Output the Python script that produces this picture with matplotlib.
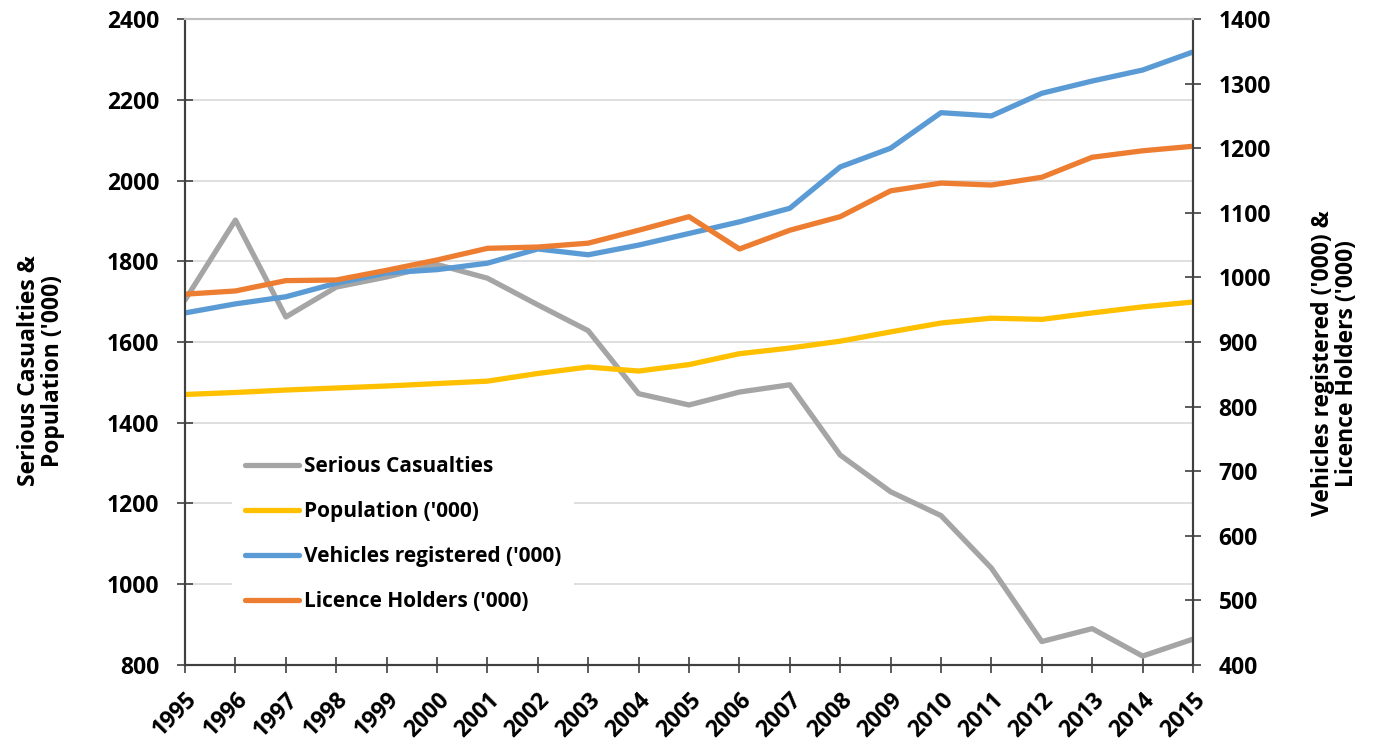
import matplotlib
matplotlib.use("Agg")
import matplotlib.pyplot as plt

plt.rcParams["font.family"] = ["Open Sans", "DejaVu Sans"]
plt.rcParams["font.weight"] = "bold"

years = list(range(1995, 2016))
casualties = [1704, 1902, 1662, 1736, 1761, 1792, 1758, 1692, 1628, 1472, 1444,
              1476, 1494, 1320, 1229, 1170, 1040, 858, 890, 822, 864]
population = [1470, 1475, 1481, 1486, 1491, 1497, 1503, 1522, 1538, 1528, 1544,
              1571, 1585, 1602, 1625, 1647, 1659, 1656, 1672, 1687, 1699]
vehicles = [945, 959, 970, 991, 1007, 1012, 1022, 1044, 1035, 1050, 1068,
            1086, 1107, 1171, 1200, 1255, 1250, 1285, 1304, 1321, 1349]
licences = [974, 979, 995, 996, 1011, 1027, 1045, 1047, 1053, 1073, 1094,
            1044, 1073, 1094, 1134, 1146, 1143, 1155, 1186, 1196, 1203]

fig = plt.figure(figsize=(13.83, 7.40), dpi=100, facecolor="white")
ax = fig.add_axes([0.1338, 0.1014, 0.7288, 0.8729])
ax2 = ax.twinx()

ln1, = ax.plot(years, casualties, color="#A5A5A5", lw=3.8, label="Serious Casualties",
               solid_capstyle="round", zorder=3)
ln2, = ax.plot(years, population, color="#FFC000", lw=3.8, label="Population ('000)",
               solid_capstyle="round", zorder=4)
ln3, = ax2.plot(years, vehicles, color="#5B9BD5", lw=3.8, label="Vehicles registered ('000)",
                solid_capstyle="round")
ln4, = ax2.plot(years, licences, color="#ED7D31", lw=3.8, label="Licence Holders ('000)",
                solid_capstyle="round")

ax.set_xlim(1995, 2015)
ax.set_ylim(800, 2400)
ax2.set_ylim(400, 1400)
ax.set_yticks(range(800, 2401, 200))
ax2.set_yticks(range(400, 1401, 100))
ax.set_xticks(years)
ax.set_xticklabels([str(y) for y in years], rotation=45, ha="right",
                   rotation_mode="anchor")

ax.grid(axis="y", color="#D9D9D9", lw=1.2)
ax.set_axisbelow(True)

for a in (ax, ax2):
    a.tick_params(direction="inout", length=11, width=1.2, color="#404040",
                  labelsize=16.5, pad=13)
    for s in a.spines.values():
        s.set_color("#404040")
        s.set_linewidth(1.5)
    a.spines["top"].set_color("#BFBFBF")
ax.tick_params(axis="x", pad=11)

ax.set_ylabel("Serious Casualties &\nPopulation ('000)", fontsize=16.5,
              fontweight="bold", linespacing=1.0)
ax2.set_ylabel("Vehicles registered ('000) &\nLicence Holders ('000)", fontsize=16.5,
               fontweight="bold", linespacing=1.0)
ax.yaxis.set_label_coords(-0.119, 0.455)
ax2.yaxis.set_label_coords(1.117, 0.467)

leg = ax2.legend(handles=[ln1, ln2, ln3, ln4], loc="upper left",
                 bbox_to_anchor=(0.168, 0.40), bbox_transform=fig.transFigure,
                 frameon=True, facecolor="white", edgecolor="none", framealpha=1,
                 fontsize=15, handlelength=2.6, handletextpad=0.25,
                 labelspacing=1.15, borderpad=0.6, borderaxespad=0)
for t in leg.get_texts():
    t.set_fontweight("bold")

fig.savefig("out.png", dpi=100, facecolor="white")
